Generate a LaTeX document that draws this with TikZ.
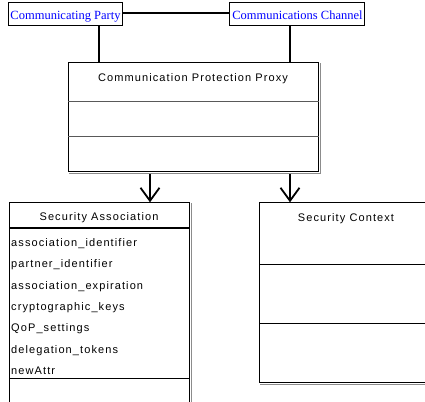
\documentclass[tikz,border=0pt]{standalone}
\usepackage{fontspec}
\setmainfont{Liberation Sans}
\newfontfamily\endpointfont{Liberation Serif}
\newfontfamily\umlfont[LetterSpace=10]{Liberation Sans}
\usetikzlibrary{arrows.meta}

\begin{document}
\begin{tikzpicture}[x=1pt,y=-1pt,
  endpoint/.style={draw=black, line width=1.4pt, inner sep=0pt, anchor=north west},
  endlabel/.style={anchor=base, inner sep=0pt, text=blue,
    font=\endpointfont\fontsize{12.5}{14}\selectfont},
  classbox/.style={draw=black, line width=0.8pt, inner sep=0pt, anchor=north west},
  shade/.style={draw=black!45, line width=1.6pt},
  divider/.style={draw=black, line width=0.8pt},
  heavydivider/.style={draw=black!65, line width=1.5pt},
  link/.style={draw=black, line width=2.6pt},
  umltext/.style={inner sep=0pt, anchor=base, font=\umlfont\fontsize{11}{13}\selectfont},
  attr/.style={umltext, anchor=base west},
  gen/.style={draw=black, -{Straight Barb[length=13pt,width=19pt,line width=1.8pt]}}
]
\useasboundingbox (0,0) rectangle (425,401);
\clip (0,0) rectangle (425,401);
\fill[white] (0,0) rectangle (425,401);

% drop points of the vertical connectors
\coordinate (pdrop) at (99,0);
\coordinate (cdrop) at (290,0);
\coordinate (adrop) at (150,0);

% endpoints
\node[endpoint, minimum width=114pt, minimum height=23pt] (party) at (8,2) {};
\node[endlabel] (partylabel) at (65.5,20) {Communicating Party};
\node[endpoint, minimum width=135pt, minimum height=23pt] (channel) at (229,2) {};
\node[endlabel] (channellabel) at (297.5,20) {Communications Channel};

% proxy class
\node[classbox, minimum width=250pt, minimum height=109pt] (proxy) at (68,62.3) {};
\draw[shade] ([xshift=1.5pt,yshift=-1pt]proxy.north east)
  -- ([xshift=1.5pt,yshift=-1.2pt]proxy.south east)
  -- ([xshift=1pt,yshift=-1.2pt]proxy.south west);
\draw[heavydivider] ([yshift=-39.4pt]proxy.north west) -- ([yshift=-39.4pt]proxy.north east);
\draw[heavydivider] ([yshift=-74.4pt]proxy.north west) -- ([yshift=-74.4pt]proxy.north east);
\node[umltext] (proxytitle) at (193,81.7) {Communication Protection Proxy};

% associations between the endpoints and the proxy
\draw[link, line width=2.2pt] ([yshift=1.3pt]party.east) -- ([yshift=1.3pt]channel.west);
\draw[link] (party.south -| pdrop) -- (proxy.north -| pdrop);
\draw[link] (channel.south -| cdrop) -- (proxy.north -| cdrop);

% security association class
\node[classbox, minimum width=180pt, minimum height=212pt] (sa) at (9,202.3) {};
\draw[shade] ([xshift=1.5pt,yshift=-1pt]sa.north east) -- ([xshift=1.5pt]sa.south east);
\draw[divider, line width=1.6pt] ([yshift=-25.7pt]sa.north west) -- ([yshift=-25.7pt]sa.north east);
\draw[divider] ([yshift=-175.7pt]sa.north west) -- ([yshift=-175.7pt]sa.north east);
\node[umltext] (satitle) at (99,220.7) {Security Association};
\node[attr] (a1) at (11,246.5) {association\_identifier};
\node[attr] (a2) at (11,267.8) {partner\_identifier};
\node[attr] (a3) at (11,289.1) {association\_expiration};
\node[attr] (a4) at (11,310.4) {cryptographic\_keys};
\node[attr] (a5) at (11,331.7) {QoP\_settings};
\node[attr] (a6) at (11,353.0) {delegation\_tokens};
\node[attr] (a7) at (11,374.3) {newAttr};

% security context class
\node[classbox, minimum width=174pt, minimum height=180pt] (sc) at (259,202.3) {};
\draw[shade] ([xshift=1pt,yshift=-1.5pt]sc.south west) -- ([yshift=-1.5pt]sc.south east);
\draw[divider] ([yshift=-61.7pt]sc.north west) -- ([yshift=-61.7pt]sc.north east);
\draw[divider] ([yshift=-121pt]sc.north west) -- ([yshift=-121pt]sc.north east);
\node[umltext] (sctitle) at (346,221) {Security Context};

% generalisation arrows from the proxy
\draw[gen, line width=1.3pt] ([yshift=-2pt]proxy.south -| adrop) -- (sa.north -| adrop);
\draw[gen, line width=2.4pt] ([yshift=-2pt]proxy.south -| cdrop) -- (sc.north -| cdrop);
\end{tikzpicture}
\end{document}
